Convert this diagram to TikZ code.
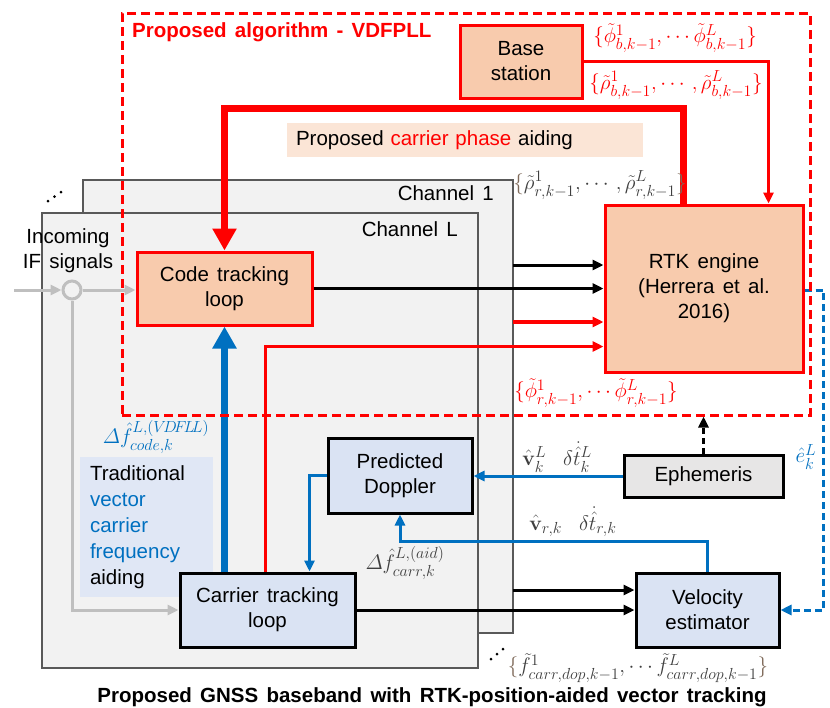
\RequirePackage{fix-cm}
\documentclass[tikz,border=0pt]{standalone}
\usepackage{amsmath}
\usepackage[no-math]{fontspec}
\setmainfont{Liberation Sans}[WordSpace=1.45]
\usetikzlibrary{arrows.meta,calc}
\DeclareMathSizes{21}{21}{16}{12.5}

\definecolor{peach}{HTML}{F8CBAD}
\definecolor{peachlt}{HTML}{FBE5D6}
\definecolor{bluefill}{HTML}{DAE3F3}
\definecolor{aidblue}{HTML}{0070C0}
\definecolor{panelfill}{HTML}{F2F2F2}
\definecolor{panelline}{HTML}{595959}
\definecolor{ephfill}{HTML}{E7E6E6}
\definecolor{sigray}{HTML}{BFBFBF}
\definecolor{mathgray}{HTML}{3F3F3F}
\definecolor{bracebrown}{HTML}{7F6A5A}

\newcommand\bxfont{\fontsize{20.5}{25}\selectfont}
\newcommand\lblfont{\fontsize{21}{22}\selectfont}

\tikzset{
  panelbox/.style={draw=panelline, fill=panelfill, line width=1.4pt, inner sep=0pt},
  blockbox/.style={line width=3pt, inner sep=0pt, align=center, font=\bxfont},
  redblock/.style={blockbox, draw=red, fill=peach},
  blueblock/.style={blockbox, draw=black, fill=bluefill},
  greyblock/.style={blockbox, draw=black, fill=ephfill},
  tip/.style={-{Triangle[length=11pt,width=10pt]}},
  blackflow/.style={line width=3pt, black, tip},
  redflow/.style={line width=3.3pt, red, tip},
  blueflow/.style={line width=3pt, aidblue, tip},
  greyflow/.style={line width=3pt, sigray, tip},
  bigred/.style={line width=7pt, red, -{Triangle[length=22pt,width=23pt]}},
  bigblue/.style={line width=7pt, aidblue, -{Triangle[length=22pt,width=23pt]}},
  lbl/.style={font=\lblfont, inner sep=0pt},
}

\begin{document}
\begin{tikzpicture}[x=1pt, y=-1pt]
\useasboundingbox (0,0) rectangle (830,707);
\fill[white] (0,0) rectangle (830,707);

% stacked tracking channels
\node[panelbox, minimum width=430pt, minimum height=453pt] (ch1) at (298,406.5) {};
\node[panelbox, minimum width=436pt, minimum height=455pt] (chL) at (260,440.5) {};
\node[font=\bxfont, anchor=east, inner sep=0pt] (ch1lbl) at (494,193) {Channel 1};
\node[font=\bxfont, anchor=east, inner sep=0pt] (chLlbl) at (458,229) {Channel L};

% ellipsis dots for further channels
\foreach \p in {(48,201),(54.5,196.5),(61,192),(491,659),(497,654),(503,649)}
  \fill[black] \p circle (1.5pt);

% annotation backgrounds
\node[fill=peachlt, minimum height=34pt, text width=338pt, inner xsep=9pt, inner ysep=0pt,
      align=left, font=\bxfont] (aidnote) at (465,140)
  {Proposed \textcolor{red}{carrier phase} aiding};
\node[fill=bluefill!85!white, minimum height=140pt, text width=113pt, inner xsep=10pt, inner ysep=0pt,
      align=left, font=\fontsize{20.5}{26}\selectfont] (tradnote) at (146.5,527)
  {Traditional\\\textcolor{aidblue}{vector}\\\textcolor{aidblue}{carrier}\\\textcolor{aidblue}{frequency}\\aiding};

% blocks
\node[redblock, minimum width=122pt, minimum height=73pt] (base) at (521,61.5) {Base\\station};
\node[redblock, minimum width=198pt, minimum height=167pt] (rtk) at (704,288.5)
  {RTK engine\\(Herrera et al.\\2016)};
\node[redblock, minimum width=175pt, minimum height=73pt] (code) at (224.5,288.5) {Code tracking\\loop};
\node[blueblock, minimum width=175pt, minimum height=74pt] (carr) at (267.5,610) {Carrier tracking\\loop};
\node[blueblock, minimum width=144pt, minimum height=75pt] (pred) at (400,475.5) {Predicted\\Doppler};
\node[greyblock, minimum width=159pt, minimum height=42pt] (eph) at (703.5,476) {Ephemeris};
\node[blueblock, minimum width=143pt, minimum height=74pt] (vel) at (707.5,610) {Velocity\\estimator};

% incoming signal split
\coordinate (ifin) at (14,290);
\node[circle, draw=sigray, line width=3pt, minimum size=18pt, inner sep=0pt] (split) at (72,290) {};
\node[font=\bxfont, align=center, inner sep=0pt] (iflbl) at (68,251) {Incoming\\IF signals};
\draw[greyflow] (ifin) -- (split.west);
\draw[greyflow] (split.east) -- (split.east -| code.west);
\draw[greyflow] (split.south) |- (carr.west);

% channel outputs
\coordinate (c1out) at (513,265);
\coordinate (c1phase) at (513,322);
\coordinate (c1dop) at (513,590);
\draw[blackflow] (c1out) -- (c1out -| rtk.west);
\draw[blackflow] (code.east) -- (code.east -| rtk.west);
\draw[redflow] (c1phase) -- (c1phase -| rtk.west);
\draw[redflow] ($(carr.north west)+(87,0)$) |- ($(rtk.west)+(0,58)$);
\draw[blackflow] (c1dop) -- (c1dop -| vel.west);
\draw[blackflow] (carr.east) -- (vel.west);

% base station measurements
\draw[redflow] (base.east) -| ($(rtk.north east)+(-36,0)$);

% carrier phase aiding and frequency aiding
\draw[bigred] ($(rtk.north west)+(80,0)$) -- ++(0,-95) -| (code.north);
\draw[bigblue] (code.south |- carr.north) -- (code.south);

% Doppler prediction loop
\draw[blueflow] (eph.west) -- (eph.west -| pred.east);
\draw[blueflow] (pred.west) -| ($(carr.north west)+(131,0)$);
\draw[blueflow] (vel.north) -- ++(0,-30) -| (pred.south);
\draw[blueflow, dashed, dash pattern=on 7pt off 4pt] ($(rtk.east)+(0,1.5)$) -- ++(19,0) |- (vel.east);

% proposed algorithm boundary
\node[draw=red, line width=3pt, dash pattern=on 9pt off 5pt, minimum width=688pt, minimum height=402pt, inner sep=0pt]
  (alg) at (466,214) {};
\node[text=red, font=\fontsize{20.5}{22}\selectfont\bfseries, anchor=west, inner sep=0pt] (algtitle) at (132,32)
  {Proposed algorithm - VDFPLL};
\draw[line width=3pt, dashed, dash pattern=on 6pt off 4pt, tip] (eph.north) -- (eph.north |- alg.south);

% signal labels
\node[lbl, text=red] (phib) at (675,38) {$\{\tilde{\phi}^{1}_{b,k-1},\cdots\tilde{\phi}^{L}_{b,k-1}\}$};
\node[lbl, text=red] (rhob) at (676,85) {$\{\tilde{\rho}^{1}_{b,k-1},\cdots,\tilde{\rho}^{L}_{b,k-1}\}$};
\node[lbl, text=mathgray] (rhor) at (600,185) {$\textcolor{bracebrown}{\{}\tilde{\rho}^{1}_{r,k-1},\cdots,\tilde{\rho}^{L}_{r,k-1}\textcolor{bracebrown}{\}}$};
\node[lbl, text=red] (phir) at (596,393) {$\{\tilde{\phi}^{1}_{r,k-1},\cdots\tilde{\phi}^{L}_{r,k-1}\}$};
\node[lbl, text=aidblue] (dfcode) at (156,437) {$\varDelta\hat{f}^{L,(V\!D\!F\!L\!L)}_{code,k}$};
\node[lbl, text=mathgray] (dfcarr) at (405,563) {$\varDelta\hat{f}^{L,(aid)}_{carr,k}$};
\node[lbl, text=mathgray] (vsat) at (557,457) {$\hat{\mathbf{v}}^{L}_{k}\ \ \delta\dot{\hat{t}}^{L}_{k}$};
\node[lbl, text=mathgray] (vrx) at (573,522) {$\hat{\mathbf{v}}_{r,k}\ \ \delta\dot{\hat{t}}_{r,k}$};
\node[lbl, text=aidblue] (los) at (806,457) {$\hat{e}^{L}_{k}$};
\node[lbl, text=mathgray] (fdop) at (638,668) {$\textcolor{bracebrown}{\{}\tilde{f}^{1}_{carr,dop,k-1},\cdots\tilde{f}^{L}_{carr,dop,k-1}\textcolor{bracebrown}{\}}$};

% caption
\node[font=\fontsize{20.5}{22}\selectfont\bfseries, inner sep=0pt] (caption) at (432,697)
  {Proposed GNSS baseband with RTK-position-aided vector tracking};
\end{tikzpicture}
\end{document}
